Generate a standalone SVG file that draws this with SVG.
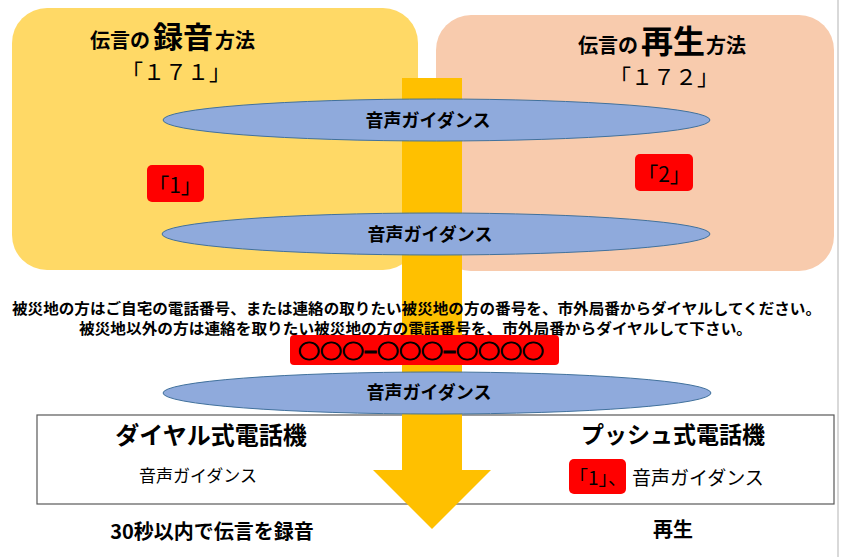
<svg xmlns="http://www.w3.org/2000/svg" width="848" height="557" viewBox="0 0 848 557">
<style>
.jp{font-family:"Noto Sans CJK JP","Liberation Sans",sans-serif;fill:#000}
.b{font-weight:bold}
.ell{fill:#8FAADC;stroke:#41719C;stroke-width:1}
.red{fill:#FF0000}
</style>
<rect width="848" height="557" fill="#FFFFFF"/>
<line x1="838" y1="0" x2="838" y2="557" stroke="#D9D9D9" stroke-width="2"/>
<g id="record-box">
<rect x="12" y="8" width="406" height="262" rx="35" fill="#FFD966"/>
<text class="jp b" y="48" font-size="20"><tspan x="90">伝言の</tspan><tspan x="153" font-size="30">録音</tspan><tspan x="215">方法</tspan></text>
<text class="jp" x="176" y="80" font-size="22" text-anchor="middle">「１７１」</text>
</g>
<g id="play-box">
<rect x="436" y="15" width="398" height="256" rx="35" fill="#F8CBAD"/>
<text class="jp b" y="53" font-size="20"><tspan x="578">伝言の</tspan><tspan x="641" font-size="32">再生</tspan><tspan x="706">方法</tspan></text>
<text class="jp" x="664" y="85" font-size="22" text-anchor="middle">「１７２」</text>
</g>
<g id="phone-box">
<rect x="37" y="415" width="797" height="89" fill="none" stroke="#595959" stroke-width="1.2"/>
</g>
<g id="connectors">
<path d="M402,78 H462 V470 H491 L432,529 L373,470 H402 Z" fill="#FFC000"/>
</g>
<g id="guidance1">
<ellipse class="ell" cx="436.5" cy="120" rx="273.5" ry="21"/>
<text class="jp b" x="428" y="127" font-size="18" text-anchor="middle">音声ガイダンス</text>
</g>
<g id="key1">
<rect class="red" x="147" y="165" width="57" height="37" rx="5"/>
<text class="jp" x="175" y="193" font-size="21" text-anchor="middle">「1」</text>
</g>
<g id="key2">
<rect class="red" x="635" y="154" width="58" height="37" rx="5"/>
<text class="jp" x="664" y="182" font-size="21" text-anchor="middle">「2」</text>
</g>
<g id="guidance2">
<ellipse class="ell" cx="436" cy="234" rx="274" ry="21"/>
<text class="jp b" x="430" y="241" font-size="18" text-anchor="middle">音声ガイダンス</text>
</g>
<g id="instructions">
<text class="jp b" x="12" y="314" font-size="15" textLength="809" lengthAdjust="spacingAndGlyphs">被災地の方はご自宅の電話番号、または連絡の取りたい被災地の方の番号を、市外局番からダイヤルしてください。</text>
<text class="jp b" x="79" y="334" font-size="15" textLength="673" lengthAdjust="spacingAndGlyphs">被災地以外の方は連絡を取りたい被災地の方の電話番号を、市外局番からダイヤルして下さい。</text>
</g>
<g id="number">
<rect class="red" x="290" y="335" width="269" height="30" rx="4"/>
<text class="jp b" x="298" y="359" font-size="20" stroke="#000" stroke-width="0.9" textLength="246" lengthAdjust="spacingAndGlyphs">○○○−○○○−○○○○</text>
</g>
<g id="guidance3">
<ellipse class="ell" cx="437" cy="393" rx="274" ry="21"/>
<text class="jp b" x="429" y="399" font-size="18" text-anchor="middle">音声ガイダンス</text>
</g>
<g id="dial-phone">
<text class="jp b" x="211" y="444" font-size="24" text-anchor="middle">ダイヤル式電話機</text>
<text class="jp" x="198" y="482" font-size="17" text-anchor="middle">音声ガイダンス</text>
</g>
<g id="push-phone">
<text class="jp b" x="673" y="443" font-size="23" text-anchor="middle">プッシュ式電話機</text>
<rect class="red" x="569" y="459" width="57" height="35" rx="5"/>
<text class="jp" x="569" y="485" font-size="19">「1」、</text>
<text class="jp" x="632" y="485" font-size="19">音声ガイダンス</text>
</g>
<g id="results">
<text class="jp b" x="212" y="539" font-size="20" text-anchor="middle">30秒以内で伝言を録音</text>
<text class="jp b" x="673" y="537" font-size="20" text-anchor="middle">再生</text>
</g>
</svg>
